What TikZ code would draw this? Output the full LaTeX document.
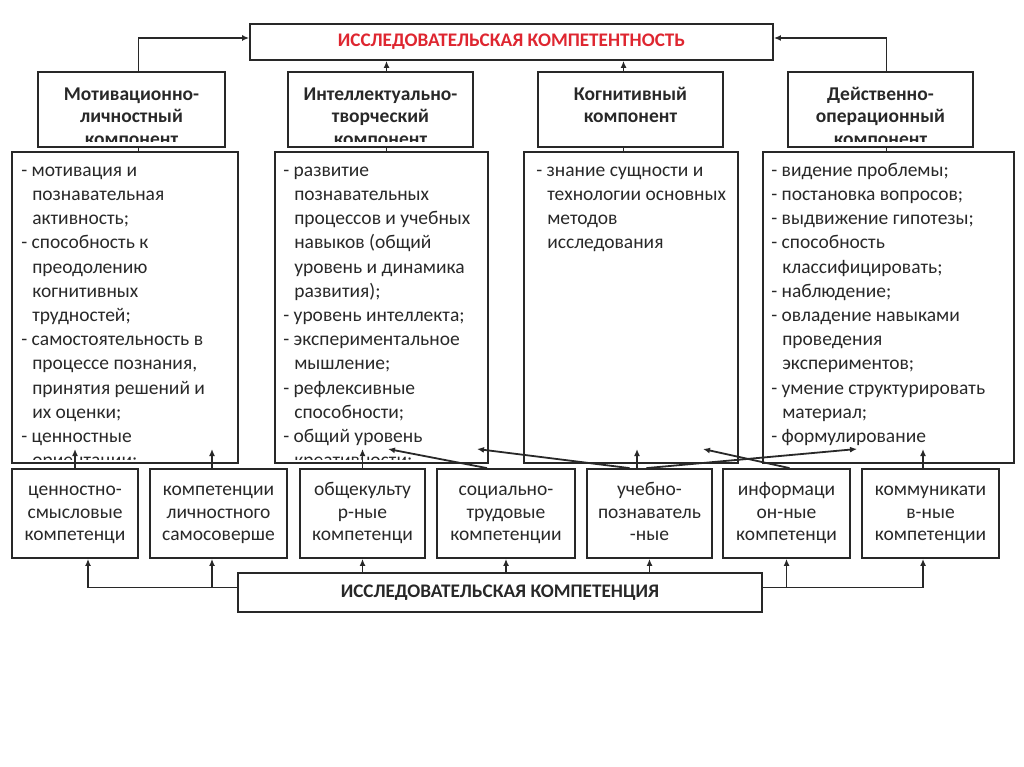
\documentclass[tikz,border=0pt]{standalone}
\usepackage{fontspec}
\setmainfont{Carlito}
\usetikzlibrary{arrows.meta,calc}
\definecolor{titlered}{RGB}{222,38,48}
\definecolor{ink}{RGB}{40,40,40}
\newcommand{\ind}{\hspace*{11pt}}

\begin{document}
\begin{tikzpicture}[
		x=1pt, y=-1pt,
		box/.style={draw=ink, line width=1.8pt, inner sep=0pt},
		head/.style={align=center, inner sep=0pt, text=ink, font=\fontsize{19.5}{22.5}\selectfont\bfseries},
		list/.style={align=left, inner sep=0pt, text=ink, font=\fontsize{19.5}{24.2}\selectfont},
		comp/.style={box, align=center, text=ink, font=\fontsize{19.5}{22.5}\selectfont},
		title/.style={box, font=\fontsize{19.2}{21}\selectfont\bfseries},
		arrow/.style={-{Latex[length=7pt,width=6pt]}, draw=ink, line width=1.8pt},
		link/.style={draw=ink, line width=1.8pt}
	]
		\useasboundingbox (0,0) rectangle (1024,767);

		% top and bottom titles
		\node[title, minimum width=523pt, minimum height=36pt, text=titlered] (top) at (511.5,42) {ИССЛЕДОВАТЕЛЬСКАЯ КОМПЕТЕНТНОСТЬ};
		\node[title, minimum width=524pt, minimum height=39pt, text=ink] (bot) at (500,592.5) {ИССЛЕДОВАТЕЛЬСКАЯ КОМПЕТЕНЦИЯ};

		% components
		\node[box, minimum width=187pt, minimum height=75pt] (h1) at (131.5,109.5) {};
		\node[box, minimum width=185pt, minimum height=75pt] (h2) at (380.5,109.5) {};
		\node[box, minimum width=185pt, minimum height=75pt] (h3) at (630.5,109.5) {};
		\node[box, minimum width=185pt, minimum height=75pt] (h4) at (880.5,109.5) {};

		\begin{scope}
			\clip ($(h1.south west)+(0,-6)$) rectangle (h1.north east);
			\node[head, anchor=north] (h1txt) at ($(h1.north)+(0,13)$) {\strut Мотивационно-\\личностный\\компонент};
		\end{scope}
		\begin{scope}
			\clip ($(h2.south west)+(0,-6)$) rectangle (h2.north east);
			\node[head, anchor=north] (h2txt) at ($(h2.north)+(0,13)$) {\strut Интеллектуально-\\творческий\\компонент};
		\end{scope}
		\node[head, anchor=north] (h3txt) at ($(h3.north)+(0,13)$) {\strut Когнитивный\\компонент};
		\begin{scope}
			\clip ($(h4.south west)+(0,-6)$) rectangle (h4.north east);
			\node[head, anchor=north] (h4txt) at ($(h4.north)+(0,13)$) {\strut Действенно-\\операционный\\компонент};
		\end{scope}

		% contents
		\node[box, minimum width=226pt, minimum height=311pt] (c1) at (125,307.5) {};
		\node[box, minimum width=213pt, minimum height=311pt] (c2) at (381.5,307.5) {};
		\node[box, minimum width=214pt, minimum height=311pt] (c3) at (631,307.5) {};
		\node[box, minimum width=251pt, minimum height=311pt] (c4) at (888.5,307.5) {};

		\begin{scope}
			\clip ($(c1.south west)+(0,-4)$) rectangle (c1.north east);
			\node[list, anchor=north west] (c1txt) at ($(c1.north west)+(10,8)$) {\strut- мотивация и\\\ind познавательная\\\ind активность;\\- способность к\\\ind преодолению\\\ind когнитивных\\\ind трудностей;\\- самостоятельность в\\\ind процессе познания,\\\ind принятия решений и\\\ind их оценки;\\- ценностные\\\ind ориентации;};
		\end{scope}
		\begin{scope}
			\clip ($(c2.south west)+(0,-4)$) rectangle (c2.north east);
			\node[list, anchor=north west] (c2txt) at ($(c2.north west)+(9,8)$) {\strut- развитие\\\ind познавательных\\\ind процессов и учебных\\\ind навыков (общий\\\ind уровень и динамика\\\ind развития);\\- уровень интеллекта;\\- экспериментальное\\\ind мышление;\\- рефлексивные\\\ind способности;\\- общий уровень\\\ind креативности;};
		\end{scope}
		\node[list, anchor=north west] (c3txt) at ($(c3.north west)+(13,8)$) {\strut- знание сущности и\\\ind технологии основных\\\ind методов\\\ind исследования};
		\node[list, anchor=north west] (c4txt) at ($(c4.north west)+(9,8)$) {\strut- видение проблемы;\\- постановка вопросов;\\- выдвижение гипотезы;\\- способность\\\ind классифицировать;\\- наблюдение;\\- овладение навыками\\\ind проведения\\\ind экспериментов;\\- умение структурировать\\\ind материал;\\- формулирование};

		% competences
		\node[comp, minimum width=126pt, minimum height=89pt] (b1) at (75,513.5) {\strut ценностно-\\смысловые\\компетенци\strut};
		\node[comp, minimum width=137pt, minimum height=89pt] (b2) at (218.5,513.5) {\strut компетенции\\личностного\\самосоверше\strut};
		\node[comp, minimum width=125pt, minimum height=89pt] (b3) at (362.5,513.5) {\strut общекульту\\р-ные\\компетенци\strut};
		\node[comp, minimum width=138pt, minimum height=89pt] (b4) at (506,513.5) {\strut социально-\\трудовые\\компетенции\strut};
		\node[comp, minimum width=125pt, minimum height=89pt] (b5) at (649.5,513.5) {\strut учебно-\\познаватель\\-ные\strut};
		\node[comp, minimum width=127pt, minimum height=89pt] (b6) at (786.5,513.5) {\strut информаци\\он-ные\\компетенци\strut};
		\node[comp, minimum width=137pt, minimum height=89pt] (b7) at (930.5,513.5) {\strut коммуникати\\в-ные\\компетенции\strut};

		% arrow tips inside the contents
		\foreach \n/\x in {c1a/75, c1b/212, c2a/362.5, c2b/388, c2c/477, c3a/637, c3b/703, c4a/857, c4b/923}
			\coordinate (\n) at (\x,449);
		\coordinate (lj) at ([yshift=5pt]bot.west);
		\coordinate (rj) at ([yshift=5pt]bot.east);

		% components to the top title
		\draw[arrow] ([xshift=7pt]h1.north) |- ([yshift=4pt]top.west);
		\draw[arrow] ([xshift=6pt]h2.north) -- ([xshift=6pt]h2.north |- top.south);
		\draw[arrow] ([xshift=-7pt]h3.north) -- ([xshift=-7pt]h3.north |- top.south);
		\draw[arrow] ([xshift=6pt]h4.north) |- ([yshift=4pt]top.east);
		\draw[link] ([xshift=7pt]h1.south) -- ([xshift=7pt]h1.south |- c1.north);
		\draw[link] ([xshift=6pt]h2.south) -- ([xshift=6pt]h2.south |- c2.north);
		\draw[link] ([xshift=-7pt]h3.south) -- ([xshift=-7pt]h3.south |- c3.north);
		\draw[link] ([xshift=6pt]h4.south) -- ([xshift=6pt]h4.south |- c4.north);

		% bottom title to competences
		\draw[arrow] (lj) -| ([xshift=13pt]b1.south);
		\draw[arrow] (lj -| c1b) -- (b2.south -| c1b);
		\draw[arrow] (bot.north -| b3.south) -- (b3.south);
		\draw[arrow] (bot.north -| b4.south) -- (b4.south);
		\draw[arrow] (bot.north -| b5.south) -- (b5.south);
		\draw[arrow] (rj -| b6.south) -- (b6.south);
		\draw[arrow] (rj) -| (c4b |- b7.south);

		% competences to contents
		\draw[arrow] (b1.north) -- (c1a);
		\draw[arrow] (b2.north -| c1b) -- (c1b);
		\draw[arrow] (b3.north) -- (c2a);
		\draw[arrow] ($(b4.north)+(-19,0)$) -- (c2b);
		\draw[arrow] ($(b5.north)+(-20,0)$) -- (c2c);
		\draw[arrow] (b5.north -| c3a) -- (c3a);
		\draw[arrow] ($(b5.north)+(-3,0)$) -- (c4a);
		\draw[arrow] ($(b6.north)+(3,0)$) -- (c3b);
		\draw[arrow] (b7.north -| c4b) -- (c4b);
	\end{tikzpicture}
\end{document}
